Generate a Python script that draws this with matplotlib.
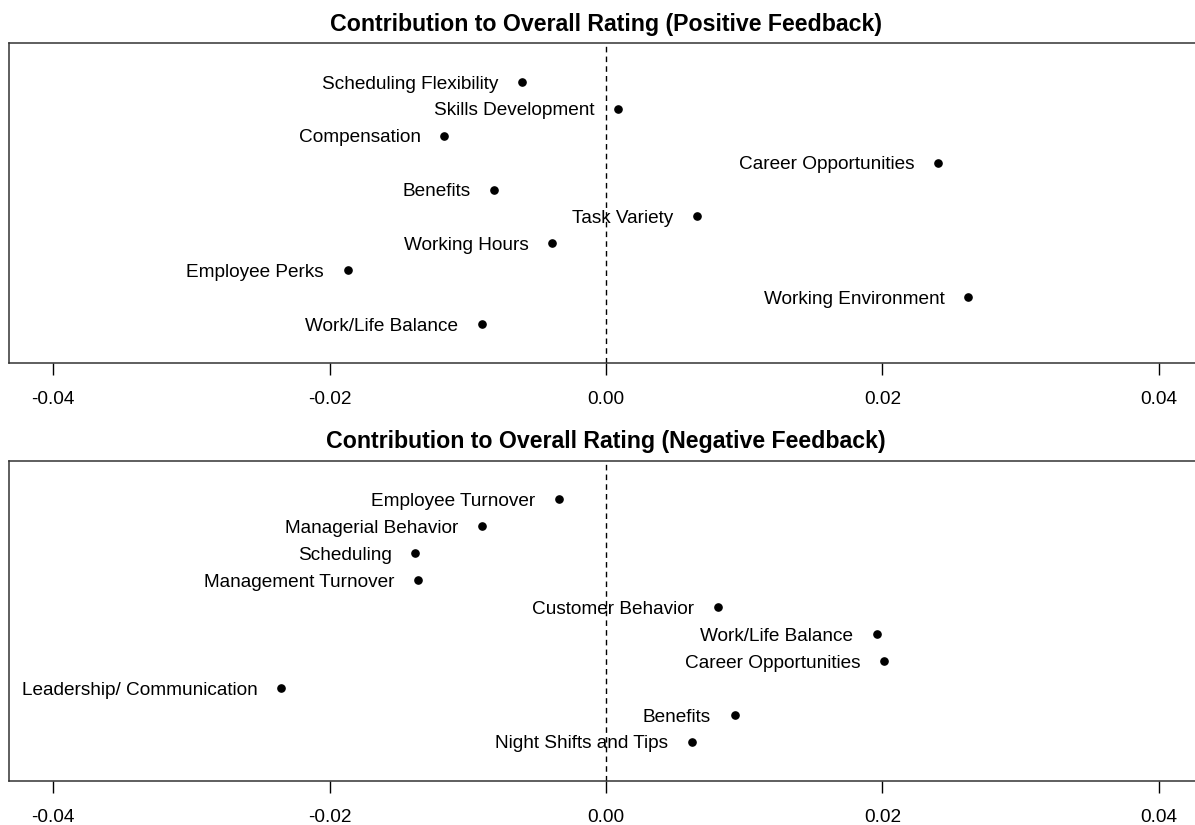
import matplotlib
matplotlib.use("Agg")
import matplotlib.pyplot as plt

plt.rcParams['font.family'] = ['Liberation Sans', 'DejaVu Sans']

# positive feedback topics, listed top to bottom
pos_labels = ["Scheduling Flexibility", "Skills Development", "Compensation",
              "Career Opportunities", "Benefits", "Task Variety", "Working Hours",
              "Employee Perks", "Working Environment", "Work/Life Balance"]
pos_values = [-0.0061, 0.0009, -0.0117, 0.0240, -0.0081,
              0.0066, -0.0039, -0.0187, 0.0262, -0.0090]

# negative feedback topics, listed top to bottom
neg_labels = ["Employee Turnover", "Managerial Behavior", "Scheduling",
              "Management Turnover", "Customer Behavior", "Work/Life Balance",
              "Career Opportunities", "Leadership/ Communication", "Benefits",
              "Night Shifts and Tips"]
neg_values = [-0.0034, -0.0090, -0.0138, -0.0136, 0.0081,
              0.0196, 0.0201, -0.0235, 0.0093, 0.0062]

x_ticks = [-0.04, -0.02, 0.0, 0.02, 0.04]
x_tick_labels = ["-0.04", "-0.02", "0.00", "0.02", "0.04"]

titles = ["Contribution to Overall Rating (Positive Feedback)",
          "Contribution to Overall Rating (Negative Feedback)"]

fig = plt.figure(figsize=(11.95, 8.25), dpi=100)
ax1 = fig.add_axes([0.0075, 0.5604, 0.9992, 0.3871])
ax2 = fig.add_axes([0.0075, 0.0537, 0.9992, 0.3879])

for ax, labels, values, title in [(ax1, pos_labels, pos_values, titles[0]),
                                  (ax2, neg_labels, neg_values, titles[1])]:
    n = len(values)
    ys = [n - i for i in range(n)]
    ax.plot(values, ys, 'o', color='black', markersize=5.2, clip_on=False)
    for v, y, lab in zip(values, ys, labels):
        ax.annotate(lab, (v, y), xytext=(-17, -1.5), textcoords='offset points',
                    ha='right', va='center', fontsize=13.7)
    ax.axvline(0, color='black', linestyle=(0, (4, 3)), linewidth=1.0)
    ax.set_xlim(-0.0432, 0.0432)
    ax.set_ylim(-0.44, 11.44)
    ax.set_yticks([])
    ax.set_xticks(x_ticks)
    ax.set_xticklabels(x_tick_labels, fontsize=13.7)
    ax.tick_params(axis='x', direction='out', length=8.6, width=1.0, pad=12)
    for s in ax.spines.values():
        s.set_linewidth(1.1)
        s.set_color('#333333')
    ax.set_title(title, fontsize=16.7, fontweight='bold', pad=9)

fig.savefig("out.png", dpi=100)
